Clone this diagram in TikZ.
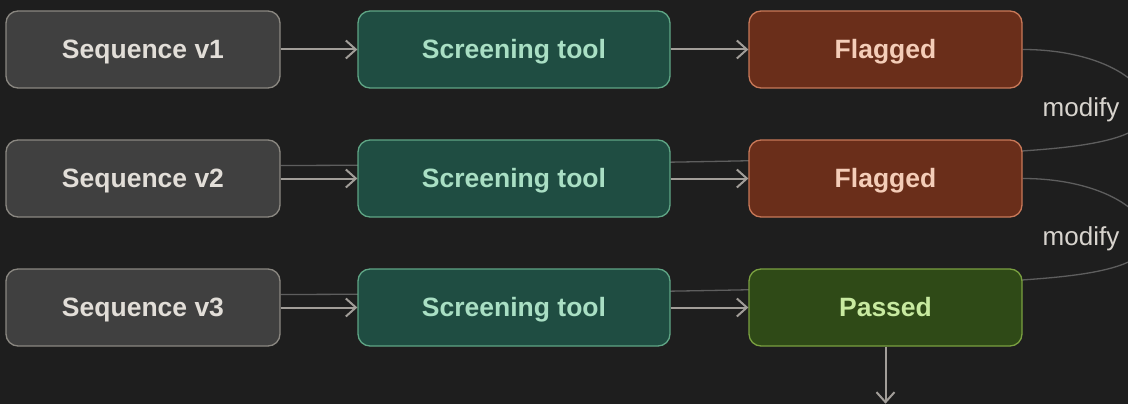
\documentclass[tikz,border=0pt]{standalone}
\usepackage{fontspec}
\setmainfont{Liberation Sans}
\usetikzlibrary{arrows.meta,calc}

\definecolor{canvas}{HTML}{1E1E1E}
\definecolor{seqfill}{HTML}{404040}
\definecolor{seqdraw}{HTML}{8A8781}
\definecolor{seqtext}{HTML}{E2DED8}
\definecolor{toolfill}{HTML}{1F4D42}
\definecolor{tooldraw}{HTML}{5FA585}
\definecolor{tooltext}{HTML}{A9DFC4}
\definecolor{flagfill}{HTML}{6A2E1A}
\definecolor{flagdraw}{HTML}{C87858}
\definecolor{flagtext}{HTML}{F4CDB8}
\definecolor{passfill}{HTML}{2F4A17}
\definecolor{passdraw}{HTML}{7AA040}
\definecolor{passtext}{HTML}{C8EAA0}
\definecolor{arrowcol}{HTML}{A29E99}
\definecolor{loopcol}{HTML}{5E5E5E}
\definecolor{labelcol}{HTML}{D8D4CE}

\pgfdeclarelayer{bg}
\pgfdeclarelayer{back}
\pgfsetlayers{bg,back,main}

\tikzset{
  box/.style={rounded corners=12pt, line width=1.3pt, minimum height=77pt,
    inner sep=0pt, text height=20pt, text depth=2pt,
    font=\fontsize{26.5}{30}\selectfont\bfseries},
  seqbox/.style={box, minimum width=274pt, fill=seqfill, draw=seqdraw, text=seqtext},
  toolbox/.style={box, minimum width=312pt, fill=toolfill, draw=tooldraw, text=tooltext},
  flagbox/.style={box, minimum width=273pt, fill=flagfill, draw=flagdraw, text=flagtext},
  passbox/.style={box, minimum width=273pt, fill=passfill, draw=passdraw, text=passtext},
  flow/.style={draw=arrowcol, line width=2pt,
    -{Straight Barb[length=10pt,width=18pt,line width=2pt]}},
  loop/.style={draw=loopcol, line width=1.3pt},
  looplabel/.style={text=labelcol, font=\fontsize{26}{30}\selectfont},
}

\begin{document}
\begin{tikzpicture}[x=1pt,y=-1pt]
  \useasboundingbox (0,0) rectangle (1128,404);
  \clip (0,0) rectangle (1128,404);
  \begin{pgfonlayer}{bg}
    \fill[canvas] (0,0) rectangle (1128,404);
  \end{pgfonlayer}

  % row 1
  \node[seqbox]  (s1) at (143,49.5)   {Sequence v1};
  \node[toolbox] (t1) at (514,49.5)   {Screening tool};
  \node[flagbox] (f1) at (885.5,49.5) {Flagged};
  % row 2
  \node[seqbox]  (s2) at (143,178.5)   {Sequence v2};
  \node[toolbox] (t2) at (514,178.5)   {Screening tool};
  \node[flagbox] (f2) at (885.5,178.5) {Flagged};
  % row 3
  \node[seqbox]  (s3) at (143,307.5)   {Sequence v3};
  \node[toolbox] (t3) at (514,307.5)   {Screening tool};
  \node[passbox] (p3) at (885.5,307.5) {Passed};

  \coordinate (done) at ($(p3.south)+(0,57)$);

  % screening flow
  \draw[flow] (s1) -- (t1);
  \draw[flow] (t1) -- (f1);
  \draw[flow] (s2) -- (t2);
  \draw[flow] (t2) -- (f2);
  \draw[flow] (s3) -- (t3);
  \draw[flow] (t3) -- (p3);
  \draw[flow] (p3) -- (done);

  % feedback loops: a flagged result sends a modified sequence to the next round
  \begin{pgfonlayer}{back}
    \draw[loop] (f1.east) .. controls +(75,0) and +(0,-30) .. (1148,110)
      .. controls +(0,30) and +(58,-4) .. (1022,151)
      .. controls (850,162) and (500,165) .. ($(s2.east)+(0,-13)$);
    \draw[loop] (f2.east) .. controls +(75,0) and +(0,-30) .. (1148,239)
      .. controls +(0,30) and +(58,-4) .. (1022,280)
      .. controls (850,291) and (500,294) .. ($(s3.east)+(0,-13)$);
  \end{pgfonlayer}

  \node[looplabel] (m1) at (1081,110) {modify};
  \node[looplabel] (m2) at (1081,239) {modify};
\end{tikzpicture}
\end{document}
